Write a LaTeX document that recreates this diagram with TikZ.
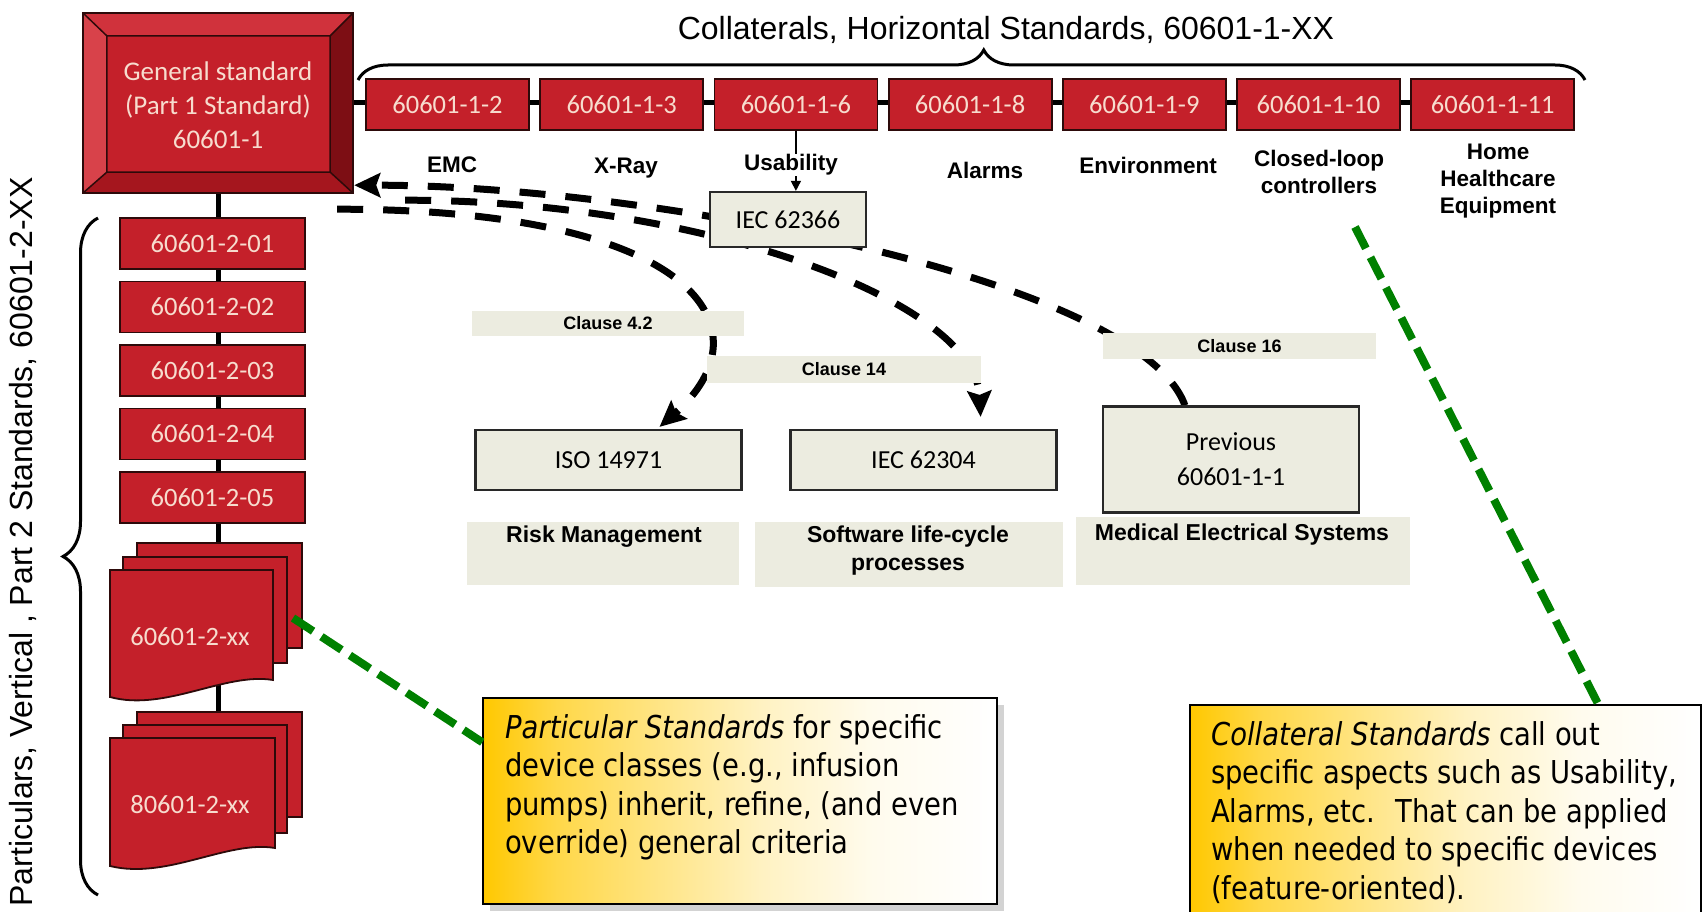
\documentclass[tikz,border=0pt]{standalone}
\usepackage{fontspec}
\setmainfont{Liberation Sans}
\newfontfamily\calibri{Carlito}
\newfontfamily\tahoma[FakeStretch=0.87]{DejaVu Sans}
\usetikzlibrary{arrows.meta,decorations.pathreplacing,shadows,calc}

\definecolor{redface}{RGB}{196,32,42}
\definecolor{redtop}{RGB}{208,50,60}
\definecolor{redleft}{RGB}{216,66,74}
\definecolor{redright}{RGB}{125,14,20}
\definecolor{redbottom}{RGB}{165,22,30}
\definecolor{redline}{RGB}{45,10,10}
\definecolor{pinktext}{RGB}{247,220,206}
\definecolor{beige}{RGB}{236,236,224}
\definecolor{boxline}{RGB}{40,40,40}
\definecolor{dashgreen}{RGB}{0,128,0}
\definecolor{calloutgold}{RGB}{255,200,0}
\colorlet{goldA}{calloutgold!72!white}
\colorlet{goldB}{calloutgold!48!white}
\colorlet{goldC}{calloutgold!24!white}
\colorlet{goldD}{calloutgold!7!white}

\pgfdeclarehorizontalshading{calloutshade}{100bp}{color(0bp)=(calloutgold); color(25bp)=(calloutgold); color(32bp)=(goldA); color(42bp)=(goldB); color(52bp)=(goldC); color(63bp)=(goldD); color(75bp)=(white); color(100bp)=(white)}

\pgfdeclarelayer{links}
\pgfdeclarelayer{curves}
\pgfsetlayers{links,curves,main}

\tikzset{
  redbox/.style={fill=redface, draw=redline, line width=1.8pt, text=pinktext,
    font=\calibri\fontsize{26.5}{30}\selectfont, inner sep=0pt, minimum height=51pt},
  topred/.style={redbox, minimum width=163pt},
  colred/.style={redbox, minimum width=185pt},
  docred/.style={fill=redface, draw=redline, line width=1.8pt},
  beigebox/.style={fill=beige, draw=boxline, line width=2.2pt,
    font=\calibri\fontsize{26}{35}\selectfont, inner sep=0pt, align=center},
  clausebox/.style={fill=beige, inner sep=0pt, font=\bfseries\fontsize{18}{22}\selectfont},
  plainbox/.style={fill=beige, inner sep=0pt},
  feature/.style={font=\bfseries\fontsize{22.5}{27}\selectfont, align=center, inner sep=1pt},
  labeltext/.style={font=\bfseries\fontsize{23}{28}\selectfont, align=center, inner sep=0pt},
  link/.style={line width=5pt, draw=black},
  bigdash/.style={line width=7pt, dash pattern=on 26pt off 20pt,
    -{Stealth[length=26pt,width=24pt,inset=4pt]}},
  greendash/.style={line width=8pt, draw=dashgreen, dash pattern=on 24pt off 10pt},
  callout/.style={draw=black, line width=1.5pt, shade, shading=calloutshade, inner sep=0pt},
  callouttext/.style={font=\tahoma\fontsize{31.5}{38.5}\selectfont, align=left,
    inner sep=0pt, anchor=north west},
  bracestyle/.style={line width=3pt, decorate},
}

\begin{document}
\begin{tikzpicture}[x=1pt,y=-1pt]
\useasboundingbox (0,0) rectangle (1704,912);

% ---------- general standard (bevelled box) ----------
\node[minimum width=270pt, minimum height=180pt, inner sep=0pt] (gen) at (218,103) {};
\coordinate (gi1) at ($(gen.north west)+(24,23)$);
\coordinate (gi2) at ($(gen.north east)+(-23,23)$);
\coordinate (gi3) at ($(gen.south east)+(-23,-21)$);
\coordinate (gi4) at ($(gen.south west)+(24,-21)$);
\fill[redtop] (gen.north west) -- (gen.north east) -- (gi2) -- (gi1) -- cycle;
\fill[redright] (gen.north east) -- (gen.south east) -- (gi3) -- (gi2) -- cycle;
\fill[redbottom] (gen.south west) -- (gen.south east) -- (gi3) -- (gi4) -- cycle;
\fill[redleft] (gen.north west) -- (gen.south west) -- (gi4) -- (gi1) -- cycle;
\fill[redface] (gi1) rectangle (gi3);
\draw[redline, line width=1.8pt] (gen.north west) rectangle (gen.south east);
\draw[redline, line width=1.5pt] (gi1) rectangle (gi3)
  (gen.north west) -- (gi1) (gen.north east) -- (gi2)
  (gen.south east) -- (gi3) (gen.south west) -- (gi4);
\node[text=pinktext, font=\calibri\fontsize{27}{34}\selectfont, align=center] (gentext)
  at (218,105) {General standard\\(Part 1 Standard)\\60601-1};

% ---------- collateral standards ----------
\foreach \nm/\lab [count=\i from 0] in {c2/60601-1-2,c3/60601-1-3,c6/60601-1-6,
    c8/60601-1-8,c9/60601-1-9,c10/60601-1-10,c11/60601-1-11}
  \node[topred] (\nm) at ({447.5+174.2*\i},104.5) {\lab};

% ---------- particular standards ----------
\foreach \nm/\lab [count=\i from 0] in {p01/60601-2-01,p02/60601-2-02,p03/60601-2-03,
    p04/60601-2-04,p05/60601-2-05}
  \node[colred] (\nm) at (212.5,{243.5+63.5*\i}) {\lab};

% stacked document shapes
\filldraw[docred] (137,543) rectangle (302,648);
\filldraw[docred] (123,557) rectangle (287,663);
\filldraw[docred] (110,570) -- (273,570) -- (273,680)
  .. controls (225,672) and (165,712) .. (110,697) -- cycle;
\node[text=pinktext, font=\calibri\fontsize{26.5}{30}\selectfont] (p60) at (190,637) {60601-2-xx};

\filldraw[docred] (137,712) rectangle (302,817);
\filldraw[docred] (123,725) rectangle (287,833);
\filldraw[docred] (110,738) -- (275,738) -- (275,848)
  .. controls (227,840) and (167,880) .. (110,866) -- cycle;
\node[text=pinktext, font=\calibri\fontsize{26.5}{30}\selectfont] (p80) at (190,805) {80601-2-xx};
\coordinate (p80top) at (218,712);

% ---------- black connectors ----------
\begin{pgfonlayer}{links}
  \draw[link] (gen.east) -- (gen.east -| c11.west);
  \draw[link] (gen.south) -- (p80top);
\end{pgfonlayer}

% ---------- braces and group titles ----------
\coordinate (tbL) at (358,80);
\coordinate (tbR) at (1585,80);
\draw[bracestyle, decoration={brace, amplitude=30pt, aspect=0.51}] (tbL) -- (tbR);
\node[font=\fontsize{32}{36}\selectfont] (toptitle) at (1006,30)
  {Collaterals, Horizontal Standards, 60601-1-XX};

\coordinate (lbB) at (98,895);
\coordinate (lbT) at (98,218);
\draw[bracestyle, decoration={brace, amplitude=35pt}] (lbB) -- (lbT);
\node[font=\fontsize{32}{36}\selectfont, rotate=90] (sidetitle) at (23,542)
  {Particulars, Vertical , Part 2 Standards, 60601-2-XX};

% ---------- features under collaterals ----------
\node[feature] (lemc) at (452,165) {EMC};
\node[feature] (lxray) at (626,168) {X-Ray};
\node[feature] (lalarm) at (985,170) {Alarms};
\node[feature] (lenv) at (1148,165) {Environment};
\node[feature] (lclosed) at (1319,171.5) {Closed-loop\\controllers};
\node[feature] (lhome) at (1498,181.5) {Home\\Healthcare\\Equipment};

% ---------- referenced standards ----------
\node[beigebox, minimum width=156pt, minimum height=55pt] (iec62366) at (788,219.5) {IEC 62366};
\draw[line width=1.5pt, -{Triangle[length=10pt,width=10pt]}] (c6.south) -- (c6.south |- iec62366.north);
\node[feature, fill=white] (luse) at (791,165) {Usability};

\node[clausebox, minimum width=272pt, minimum height=25pt] (cl42) at (608,323.5) {Clause 4.2};
\node[clausebox, minimum width=274pt, minimum height=27pt] (cl14) at (844,369.5) {Clause 14};
\node[clausebox, minimum width=273pt, minimum height=26pt] (cl16) at (1239.5,346) {Clause 16};

\node[beigebox, minimum width=266pt, minimum height=60pt] (iso) at (608.5,460) {ISO 14971};
\node[beigebox, minimum width=266pt, minimum height=60pt] (iec62304) at (923.5,460) {IEC 62304};
\node[beigebox, minimum width=256pt, minimum height=106pt] (prev) at (1231,459.5) {Previous\\60601-1-1};

\node[plainbox, minimum width=272pt, minimum height=63pt] (risk) at (603,553.5) {};
\node[plainbox, minimum width=308pt, minimum height=65pt] (swlc) at (909,554.5) {};
\node[plainbox, minimum width=334pt, minimum height=68pt] (mes) at (1243,551) {};
\node[labeltext] (trisk) at (604,537) {Risk Management};
\node[labeltext] (tswlc) at (908,551) {Software life-cycle\\processes};
\node[labeltext] (tmes) at (1242,535) {Medical Electrical Systems};

% ---------- dashed references ----------
\begin{pgfonlayer}{curves}
  \draw[bigdash] ($(prev.north west)+(83,0)$) .. controls (1140,280) and (650,185) .. ($(gen.south east)+(1,-8)$);
  \draw[bigdash] ($(gen.south east)+(52,7)$) .. controls (700,200) and (975,300) .. ($(iec62304.north east)+(-77,-12)$);
  \draw[bigdash] ($(gen.south east)+(-16,16)$) .. controls (700,209) and (770,330) .. ($(iso.north)+(51,-2)$);
\end{pgfonlayer}

% ---------- callouts ----------
\node[callout, minimum width=514pt, minimum height=206pt,
  drop shadow={shadow xshift=7pt, shadow yshift=-7pt, opacity=0.35}] (call1) at (740,801) {};
\node[callouttext] (call1txt) at (505,714)
  {\textit{Particular Standards} for specific\\device classes (e.g., infusion\\pumps) inherit, refine, (and even\\override) general criteria};

\node[callout, minimum width=511pt, minimum height=225pt] (call2) at (1445.5,817.5) {};
\node[callouttext] (call2txt) at (1211,721)
  {\textit{Collateral Standards} call out\\specific aspects such as Usability,\\Alarms, etc.~ That can be applied\\when needed to specific devices\\(feature-oriented).};

% ---------- green pointers ----------
\coordinate (pxx) at (293,618);
\draw[greendash] (pxx) -- ($(call1.north west)+(0,45)$);
\coordinate (clx) at (1355,227);
\draw[greendash] (clx) -- ($(call2.north west)+(409,0)$);

\end{tikzpicture}
\end{document}
